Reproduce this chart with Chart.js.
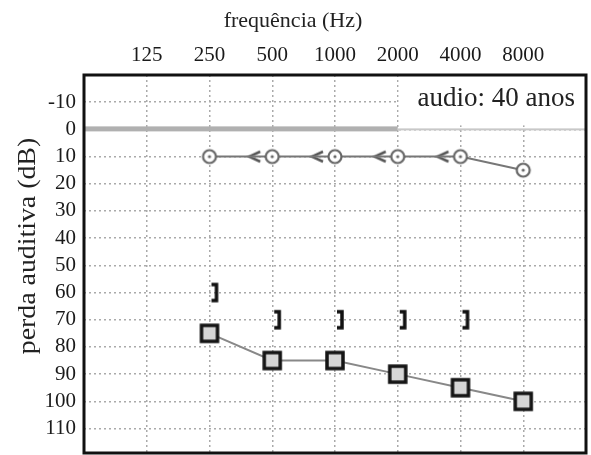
<!DOCTYPE html>
<html>
<head>
<meta charset="utf-8">
<script src="https://cdn.jsdelivr.net/npm/chart.js@4"></script>
<style>
  html, body { margin: 0; padding: 0; background: #fff; }
  canvas { display: block; }
</style>
</head>
<body>
<canvas id="chart" width="591" height="455"></canvas>
<script>
// frequencies on the top axis
const freqLabels = ["125", "250", "500", "1000", "2000", "4000", "8000"];
const yTickValues = [-10, 0, 10, 20, 30, 40, 50, 60, 70, 80, 90, 100, 110];

// circles (air conduction)
const airFreqs = ["250", "500", "1000", "2000", "4000", "8000"];
const airValues = [10, 10, 10, 10, 10, 15];

// "<" markers (bone conduction)
const boneFreqs = ["500", "1000", "2000", "4000"];
const boneValues = [10, 10, 10, 10];

// "]" markers (masked bone)
const maskedFreqs = ["250", "500", "1000", "2000", "4000"];
const maskedValues = [60, 70, 70, 70, 70];

// squares
const squareFreqs = ["250", "500", "1000", "2000", "4000", "8000"];
const squareValues = [75, 85, 85, 90, 95, 100];

const refFreq = "2000"; // the zero band and the label box change here
const boxLabel = "audio: 40 anos";
const yTitle = "perda auditiva (dB)";

function toPoints(freqs, values) {
    return freqs.map((f, i) => ({ x: freqLabels.indexOf(f) + 1, y: values[i] }));
}

function makeCanvas(w, h, draw) {
    const c = document.createElement("canvas");
    c.width = w;
    c.height = h;
    draw(c.getContext("2d"));
    return c;
}

const circleImg = makeCanvas(20, 20, function (ctx) {
    ctx.beginPath();
    ctx.arc(10, 10, 6.5, 0, Math.PI * 2);
    ctx.fillStyle = "#fff";
    ctx.fill();
    ctx.lineWidth = 2.2;
    ctx.strokeStyle = "#666";
    ctx.stroke();
    ctx.beginPath();
    ctx.arc(10, 10, 1.6, 0, Math.PI * 2);
    ctx.fillStyle = "#666";
    ctx.fill();
});

// "<" sits left of the frequency line
const boneImg = makeCanvas(52, 16, function (ctx) {
    ctx.beginPath();
    ctx.moveTo(14, 3);
    ctx.lineTo(3, 8);
    ctx.lineTo(14, 13);
    ctx.lineWidth = 2.5;
    ctx.strokeStyle = "#555";
    ctx.stroke();
});

// "]" sits right of the frequency line
const bracketImg = makeCanvas(24, 22, function (ctx) {
    ctx.beginPath();
    ctx.moveTo(14, 3);
    ctx.lineTo(19, 3);
    ctx.lineTo(19, 19);
    ctx.lineTo(14, 19);
    ctx.lineWidth = 3.5;
    ctx.strokeStyle = "#111";
    ctx.stroke();
});

const squareImg = makeCanvas(22, 22, function (ctx) {
    ctx.fillStyle = "#d6d6d6";
    ctx.fillRect(3, 3, 16, 16);
    ctx.lineWidth = 3.5;
    ctx.strokeStyle = "#151515";
    ctx.strokeRect(3, 3, 16, 16);
});

const frame = {
    id: "frame",
    beforeDatasetsDraw(chart) {
        const ctx = chart.ctx;
        const a = chart.chartArea;
        const xs = chart.scales.x;
        const ys = chart.scales.y;
        const xr = xs.getPixelForValue(freqLabels.indexOf(refFreq) + 1);
        const y0 = ys.getPixelForValue(0);
        ctx.save();
        // white label box
        ctx.fillStyle = "#fff";
        ctx.fillRect(xr + 1, a.top, a.right - xr - 1, y0 - a.top - 4);
        ctx.fillStyle = "#222";
        ctx.font = "27px 'Liberation Serif'";
        ctx.textAlign = "right";
        ctx.textBaseline = "middle";
        ctx.fillText(boxLabel, a.right - 11, (a.top + y0) / 2 - 3);
        // zero band
        ctx.fillStyle = "#b0b0b0";
        ctx.fillRect(a.left, y0 - 3, xr - a.left, 5);
        ctx.fillStyle = "#c8c8c8";
        ctx.fillRect(xr, y0 - 1, a.right - xr, 2);
        ctx.restore();
    },
    afterDraw(chart) {
        const ctx = chart.ctx;
        const a = chart.chartArea;
        ctx.save();
        ctx.lineWidth = 3;
        ctx.strokeStyle = "#111";
        ctx.strokeRect(a.left, a.top, a.right - a.left, a.bottom - a.top);
        // y axis title, a bit stretched along its length like the original
        ctx.translate(28, 246);
        ctx.rotate(-Math.PI / 2);
        ctx.scale(1.07, 1);
        ctx.fillStyle = "#222";
        ctx.font = "26px 'Liberation Serif'";
        ctx.textAlign = "center";
        ctx.textBaseline = "middle";
        ctx.fillText(yTitle, 0, 0);
        ctx.restore();
    }
};

document.addEventListener("DOMContentLoaded", function () {
    const ctx = document.getElementById("chart").getContext("2d");
    new Chart(ctx, {
        type: "scatter",
        data: {
            datasets: [
                {
                    data: toPoints(squareFreqs, squareValues),
                    showLine: true,
                    borderColor: "#888",
                    borderWidth: 2,
                    pointStyle: squareImg,
                },
                {
                    data: toPoints(airFreqs, airValues),
                    showLine: true,
                    borderColor: "#777",
                    borderWidth: 2,
                    pointStyle: circleImg,
                },
                {
                    data: toPoints(boneFreqs, boneValues),
                    pointStyle: boneImg,
                },
                {
                    data: toPoints(maskedFreqs, maskedValues),
                    pointStyle: bracketImg,
                },
            ],
        },
        options: {
            responsive: false,
            animation: false,
            layout: { autoPadding: false, padding: { right: 5, bottom: 2 } },
            plugins: {
                legend: { display: false },
                tooltip: { enabled: false },
                title: {
                    display: true,
                    text: "frequência (Hz)",
                    color: "#222",
                    font: { family: "Liberation Serif", size: 22, weight: "normal", lineHeight: 1.2 },
                    padding: { top: 8, bottom: 0 },
                },
            },
            scales: {
                x: {
                    type: "linear",
                    position: "top",
                    min: 0,
                    max: 8,
                    afterBuildTicks: function (s) {
                        s.ticks = freqLabels.map((f, i) => ({ value: i + 1 }));
                    },
                    afterFit: function (s) {
                        s.height = 75 - 34.4;
                        s.paddingLeft = 0;
                        s.paddingRight = 0;
                    },
                    ticks: {
                        callback: v => freqLabels[v - 1],
                        color: "#1a1a1a",
                        font: { family: "Liberation Serif", size: 21 },
                        padding: 7,
                        maxRotation: 0,
                    },
                    grid: {
                        color: "#aaa",
                        lineWidth: 1.5,
                        drawTicks: false,
                    },
                    border: { display: false, dash: [2, 3] },
                },
                y: {
                    type: "linear",
                    reverse: true,
                    min: -20,
                    max: 119,
                    afterBuildTicks: function (s) {
                        s.ticks = yTickValues.map(v => ({ value: v }));
                    },
                    afterFit: function (s) {
                        s.width = 84;
                        s.paddingTop = 0;
                        s.paddingBottom = 0;
                    },
                    ticks: {
                        color: "#1a1a1a",
                        font: { family: "Liberation Serif", size: 21 },
                        padding: 8,
                    },
                    grid: {
                        color: "#aaa",
                        lineWidth: 1.5,
                        drawTicks: false,
                    },
                    border: { display: false, dash: [2, 3] },
                },
            },
        },
        plugins: [frame],
    });
});
</script>
</body>
</html>
